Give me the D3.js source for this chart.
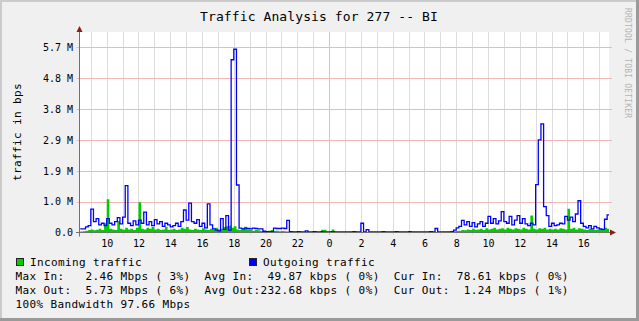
<!DOCTYPE html>
<html>
<head>
<meta charset="utf-8">
<script src="https://cdn.jsdelivr.net/npm/d3@7"></script>
<style>
body { margin: 0; background: #fff; }
svg text { font-family: "DejaVu Sans Mono", monospace; }
</style>
</head>
<body>
<div id="chart"></div>
<script>
const width = 639;
const height = 321;

// 10-minute samples from 08:20 to 17:40 next day, in units of 1e6 bit/s
const incoming = [
  0.03,0.04,0.06,0.08,0.10,0.07,0.09,0.12,0.08,0.30,
  1.08,0.12,0.10,0.08,0.37,0.12,0.09,0.15,0.10,0.12,
  0.08,0.15,0.98,0.12,0.10,0.15,0.12,0.18,0.10,0.12,
  0.08,0.10,0.19,0.08,0.10,0.12,0.08,0.10,0.15,0.12,
  0.18,0.10,0.08,0.12,0.10,0.08,0.14,0.10,0.08,0.12,
  0.10,0.15,0.10,0.12,0.18,0.20,0.22,0.15,0.20,0.10,
  0.08,0.12,0.19,0.10,0.08,0.06,0.08,0.07,0.05,0.04,
  0.05,0.06,0.08,0.05,0.06,0.04,0.05,0.04,0.03,0.04,
  0.03,0.02,0.03,0.02,0.02,0.03,0.02,0.02,0.03,0.02,
  0.02,0.09,0.09,0.02,0.03,0.10,0.02,0.02,0.02,0.02,
  0.02,0.02,0.02,0.02,0.02,0.02,0.02,0.02,0.02,0.02,
  0.02,0.02,0.02,0.02,0.02,0.02,0.02,0.02,0.02,0.02,
  0.02,0.02,0.02,0.02,0.02,0.02,0.02,0.02,0.02,0.02,
  0.02,0.02,0.02,0.02,0.02,0.02,0.02,0.02,0.02,0.02,
  0.03,0.04,0.05,0.06,0.08,0.07,0.10,0.08,0.12,0.09,
  0.10,0.12,0.08,0.14,0.10,0.12,0.15,0.10,0.12,0.14,
  0.10,0.15,0.12,0.10,0.14,0.12,0.10,0.15,0.12,0.10,
  0.55,0.12,0.10,0.14,0.12,0.15,0.10,0.12,0.10,0.12,
  0.10,0.14,0.12,0.10,0.77,0.12,0.15,0.10,0.14,0.12,
  0.10,0.08,0.12,0.10,0.08,0.10,0.12,0.10,0.15,0.12,0.10
];
const outgoing = [
  0.12,0.12,0.18,0.22,0.76,0.35,0.45,0.25,0.30,0.22,
  0.45,0.30,0.25,0.35,0.48,0.28,0.50,1.52,0.30,0.22,
  0.38,0.25,0.40,0.30,0.66,0.25,0.35,0.22,0.42,0.28,
  0.35,0.20,0.30,0.25,0.18,0.22,0.30,0.20,0.35,0.73,
  0.40,0.95,0.35,0.30,0.42,0.20,0.30,0.15,0.93,0.25,
  0.12,0.08,0.05,0.45,0.10,0.55,0.08,5.60,5.94,1.54,
  0.14,0.12,0.14,0.13,0.12,0.14,0.13,0.12,0.12,0.04,
  0.03,0.02,0.03,0.14,0.13,0.13,0.14,0.13,0.39,0.03,
  0.02,0.02,0.03,0.02,0.02,0.05,0.02,0.02,0.03,0.02,
  0.02,0.03,0.02,0.02,0.02,0.03,0.02,0.02,0.02,0.02,
  0.02,0.02,0.02,0.03,0.02,0.02,0.30,0.02,0.09,0.02,
  0.02,0.02,0.02,0.02,0.03,0.02,0.02,0.02,0.02,0.03,
  0.02,0.02,0.02,0.02,0.03,0.02,0.02,0.02,0.02,0.02,
  0.02,0.02,0.03,0.02,0.13,0.02,0.02,0.02,0.02,0.02,
  0.03,0.08,0.15,0.20,0.39,0.25,0.35,0.20,0.32,0.18,
  0.28,0.35,0.20,0.30,0.52,0.30,0.45,0.28,0.38,0.68,
  0.35,0.30,0.52,0.25,0.40,0.55,0.30,0.45,0.28,0.22,
  0.30,0.25,1.55,3.00,3.52,0.84,0.55,0.20,0.30,0.22,
  0.25,0.30,0.28,0.52,0.40,0.50,0.35,0.60,1.03,0.30,
  0.20,0.15,0.22,0.12,0.20,0.15,0.12,0.10,0.43,0.57,0.57
];

const yTicks = [0, 1, 2, 3, 4, 5, 6];
const yTickLabels = ["0.0", "1.0 M", "1.9 M", "2.9 M", "3.8 M", "4.8 M", "5.7 M"];

const seriesNames = ["Incoming traffic", "Outgoing traffic"];
const statRows = [
  "Max In:   2.46 Mbps ( 3%)  Avg In:  49.87 kbps ( 0%)  Cur In:  78.61 kbps ( 0%)",
  "Max Out:  5.73 Mbps ( 6%)  Avg Out:232.68 kbps ( 0%)  Cur Out:  1.24 Mbps ( 1%)",
  "100% Bandwidth 97.66 Mbps"
];

const firstSample = new Date(2024, 0, 1, 8, 20);
const stepMs = 10 * 60 * 1000;
const times = incoming.map((d, i) => new Date(firstSample.getTime() + i * stepMs));

const plot = {left: 79, right: 609, top: 32, bottom: 232.5};

const svg = d3.select("#chart")
  .append("svg")
  .attr("width", width)
  .attr("height", height);

// background and 3d frame
svg.append("rect").attr("width", width).attr("height", height).attr("fill", "#f0f0f0");
svg.append("path").attr("d", "M1,320V1H638").attr("fill", "none").attr("stroke", "#cbcbcb").attr("stroke-width", 2);
svg.append("path").attr("d", "M637.5,0V319.5H0").attr("fill", "none").attr("stroke", "#9a9a9a").attr("stroke-width", 3);

// canvas
svg.append("rect")
  .attr("x", plot.left).attr("y", plot.top)
  .attr("width", plot.right - plot.left).attr("height", plot.bottom - plot.top)
  .attr("fill", "#fff");

const x = d3.scaleTime()
  .domain([new Date(2024, 0, 1, 8, 15, 23), new Date(2024, 0, 2, 17, 37, 0)])
  .range([plot.left, plot.right]);

const y = d3.scaleLinear()
  .domain([0, 6.5])
  .range([plot.bottom, plot.top]);

// vertical grid, every hour; midnight is a major line
svg.append("g")
  .selectAll("line")
  .data(x.ticks(d3.timeHour.every(1)))
  .enter()
  .append("line")
  .attr("x1", d => Math.round(x(d)) + 0.5)
  .attr("x2", d => Math.round(x(d)) + 0.5)
  .attr("y1", plot.top)
  .attr("y2", 235)
  .attr("stroke", d => d.getHours() === 0 ? "#f2b6b6" : "#dcdcdc");

// horizontal major grid
svg.append("g")
  .selectAll("line")
  .data(yTicks.slice(1))
  .enter()
  .append("line")
  .attr("x1", 76.5)
  .attr("x2", 612)
  .attr("y1", d => Math.round(y(d)) + 0.5)
  .attr("y2", d => Math.round(y(d)) + 0.5)
  .attr("stroke", "#f2b6b6");

svg.append("clipPath").attr("id", "clip")
  .append("rect")
  .attr("x", plot.left).attr("y", plot.top)
  .attr("width", plot.right - plot.left).attr("height", plot.bottom - plot.top);

// incoming as green area
const area = d3.area()
  .x((d, i) => x(times[i]))
  .y0(y(0))
  .y1(d => y(d))
  .curve(d3.curveStepAfter);

svg.append("path")
  .datum(incoming)
  .attr("clip-path", "url(#clip)")
  .attr("fill", "#00cc00")
  .attr("d", area);

// outgoing as blue line
const line = d3.line()
  .x((d, i) => x(times[i]))
  .y(d => y(d))
  .curve(d3.curveStepAfter);

svg.append("path")
  .datum(outgoing)
  .attr("clip-path", "url(#clip)")
  .attr("fill", "none")
  .attr("stroke", "#0000ff")
  .attr("stroke-width", 1.3)
  .attr("d", line);

// axes
const yAxis = d3.axisLeft(y)
  .tickValues(yTicks)
  .tickSize(0)
  .tickPadding(6)
  .tickFormat((d, i) => yTickLabels[i]);

const xAxis = d3.axisBottom(x)
  .ticks(d3.timeHour.every(2))
  .tickSize(0)
  .tickPadding(7)
  .tickFormat(d3.timeFormat("%-H"));

const gy = svg.append("g")
  .attr("transform", "translate(" + plot.left + ",0)")
  .call(yAxis);
gy.select(".domain").remove();
gy.selectAll("text").attr("font-size", 10).attr("fill", "#000").attr("font-family", "DejaVu Sans Mono");

const gx = svg.append("g")
  .attr("transform", "translate(0," + plot.bottom + ")")
  .call(xAxis);
gx.select(".domain").remove();
gx.selectAll("text").attr("font-size", 10).attr("fill", "#000").attr("font-family", "DejaVu Sans Mono");

// axis lines and arrows
svg.append("line").attr("x1", 79.5).attr("x2", 79.5).attr("y1", 30).attr("y2", 236.5).attr("stroke", "#707070");
svg.append("line").attr("x1", 76).attr("x2", 612).attr("y1", 232.5).attr("y2", 232.5).attr("stroke", "#707070");
svg.append("path").attr("d", "M79.5,26L76.5,32H82.5Z").attr("fill", "#8f1a1a");
svg.append("path").attr("d", "M616,232.5L610,229.5V235.5Z").attr("fill", "#8f1a1a");

// title
svg.append("text")
  .attr("x", 319)
  .attr("y", 21)
  .attr("text-anchor", "middle")
  .attr("font-size", 13)
  .attr("letter-spacing", 0.1)
  .text("Traffic Analysis for 277 -- BI");

// vertical axis title
svg.append("text")
  .attr("transform", "translate(20.5,132) rotate(-90)")
  .attr("text-anchor", "middle")
  .attr("font-size", 11)
  .attr("letter-spacing", 0.38)
  .text("traffic in bps");

// watermark
svg.append("text")
  .attr("transform", "translate(625,8) rotate(90)")
  .attr("font-size", 8)
  .attr("fill", "#b4b4b4")
  .attr("letter-spacing", 0.2)
  .text("RRDTOOL / TOBI OETIKER");

// legend
const legendX = [16, 249];
const legendColors = ["#00cc00", "#0000ff"];
seriesNames.forEach((name, i) => {
  svg.append("rect")
    .attr("x", legendX[i] + 0.5).attr("y", 258.5)
    .attr("width", 7).attr("height", 7)
    .attr("fill", legendColors[i])
    .attr("stroke", "#222");
  svg.append("text")
    .attr("x", legendX[i] + 14)
    .attr("y", 265.5)
    .attr("font-size", 11)
    .attr("letter-spacing", 0.38)
    .text(name);
});

svg.selectAll(".stat")
  .data(statRows)
  .enter()
  .append("text")
  .attr("class", "stat")
  .attr("x", 15.5)
  .attr("y", (d, i) => 279.5 + i * 14)
  .attr("font-size", 11)
  .attr("letter-spacing", 0.38)
  .attr("xml:space", "preserve")
  .style("white-space", "pre")
  .text(d => d);
</script>
</body>
</html>
